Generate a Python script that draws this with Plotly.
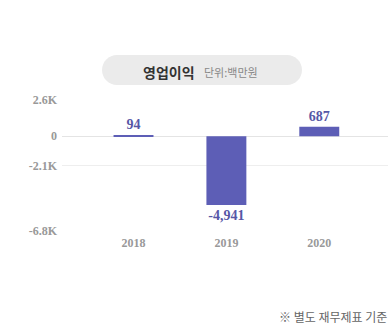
import plotly.graph_objects as go

years = ["2018", "2019", "2020"]
values = [94, -4941, 687]
labels = ["94", "-4,941", "687"]
tick_vals = [2600, 0, -2100, -6800]
tick_text = ["2.6K", "0", "-2.1K", "-6.8K"]

W, H = 388, 327
L, R, T, B = 62, 0, 100, 96
PH = H - T - B


def py(p):
    return (H - B - p) / PH


def px(p):
    return (p - L) / (W - L - R)


fig = go.Figure()
fig.add_trace(go.Bar(
    x=years, y=values, text=labels, textposition="outside",
    marker=dict(color="#5d5eb6", line=dict(width=0)),
    width=0.43, cliponaxis=False,
    textfont=dict(family="Liberation Serif", size=14, color="#5657a6", weight="bold"),
    hoverinfo="skip",
))

# pill background
w, h = 200, 30
r = h / 2
k = 0.5523 * r
hw, hh = w / 2, h / 2
path = (f"M {-hw + r},{hh} L {hw - r},{hh} "
        f"C {hw - r + k},{hh} {hw},{k} {hw},0 "
        f"C {hw},{-k} {hw - r + k},{-hh} {hw - r},{-hh} "
        f"L {-hw + r},{-hh} "
        f"C {-hw + r - k},{-hh} {-hw},{-k} {-hw},0 "
        f"C {-hw},{k} {-hw + r - k},{hh} {-hw + r},{hh} Z")
fig.add_shape(type="path", xref="paper", yref="paper", xsizemode="pixel", ysizemode="pixel",
              xanchor=px(202), yanchor=py(70), path=path,
              fillcolor="#ebebeb", line=dict(width=0), layer="below")

fig.add_annotation(x=px(169), y=py(72), xref="paper", yref="paper", text="<b>영업이익</b>",
                   showarrow=False, xanchor="center", yanchor="middle",
                   font=dict(family="Noto Sans CJK KR", size=14, color="#333333"))
fig.add_annotation(x=px(231), y=py(72), xref="paper", yref="paper", text="단위:백만원",
                   showarrow=False, xanchor="center", yanchor="middle",
                   font=dict(family="Noto Sans CJK KR", size=11, color="#888888"))
fig.add_annotation(x=px(389), y=py(316), xref="paper", yref="paper", text="※ 별도 재무제표 기준",
                   showarrow=False, xanchor="right", yanchor="middle",
                   font=dict(family="Noto Sans CJK KR", size=12, color="#666666"))

fig.update_layout(
    width=W, height=H,
    margin=dict(l=L, r=R, t=T, b=B, pad=0),
    paper_bgcolor="white", plot_bgcolor="white",
    showlegend=False,
    bargap=0.5,
    xaxis=dict(range=[-0.77, 2.74], showgrid=False, zeroline=False, showline=False,
               ticks="", fixedrange=True, ticklabelstandoff=3,
               tickfont=dict(family="Liberation Serif", size=12, color="#999999", weight="bold")),
    yaxis=dict(range=[-6800, 2600], tickvals=tick_vals, ticktext=tick_text,
               showgrid=True, gridcolor="#eeeeee", gridwidth=1,
               zeroline=True, zerolinecolor="#e4e4e4", zerolinewidth=1,
               showline=False, ticks="", ticklabelstandoff=4,
               tickfont=dict(family="Liberation Serif", size=12, color="#999999", weight="bold")),
)

fig.write_html("out.html")
